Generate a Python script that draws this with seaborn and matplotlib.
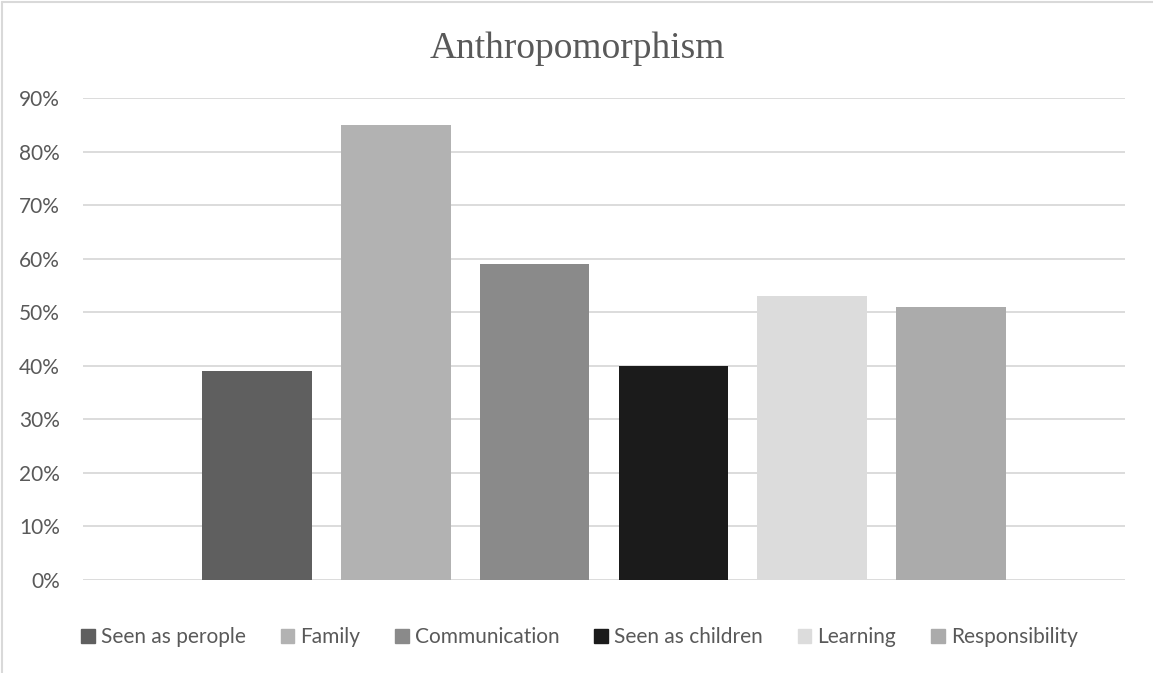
import matplotlib
matplotlib.use("Agg")
import matplotlib.pyplot as plt
import seaborn as sns
import pandas as pd
from matplotlib.patches import Rectangle
from matplotlib.lines import Line2D
from matplotlib.ticker import PercentFormatter

series = ["Seen as perople", "Family", "Communication", "Seen as children", "Learning", "Responsibility"]
values = [0.39, 0.85, 0.59, 0.40, 0.53, 0.51]
colors = ["#5f5f5f", "#b2b2b2", "#8a8a8a", "#1b1b1b", "#dcdcdc", "#ababab"]
title = "Anthropomorphism"
yticks = [0, 0.1, 0.2, 0.3, 0.4, 0.5, 0.6, 0.7, 0.8, 0.9]

df = pd.DataFrame({"cat": [""] * len(series), "series": series, "value": values})

sns.set_theme(style="white")
plt.rcParams["font.family"] = ["Lato", "DejaVu Sans"]

W, H = 1153, 673
fig = plt.figure(figsize=(W / 100, H / 100), dpi=100)
ax = fig.add_axes([83 / W, (H - 580) / H, (1125 - 83) / W, (580 - 98) / H])

sns.barplot(data=df, x="cat", y="value", hue="series", hue_order=series,
            palette=colors, width=0.8, gap=0.209, dodge=True, ax=ax,
            saturation=1, legend=True, edgecolor="none", linewidth=0, zorder=3)

ax.set_xlim(-0.5, 0.5)
ax.set_ylim(0, 0.9)
ax.set_yticks(yticks)
ax.yaxis.set_major_formatter(PercentFormatter(1.0, decimals=0))
ax.grid(axis="y", color="#d9d9d9", linewidth=1.3, zorder=0)
ax.set_axisbelow(True)
for s in ax.spines.values():
    s.set_visible(False)
ax.set_xlabel("")
ax.set_ylabel("")
ax.set_xticks([])
ax.tick_params(axis="y", length=0, pad=16.5, labelsize=15, labelcolor="#595959")

ax.legend_.remove()
handles = [Rectangle((0, 0), 1, 1, color=c) for c in colors]
leg = fig.legend(handles, series, loc="center", bbox_to_anchor=(579.5 / W, (H - 637) / H),
                 ncol=6, frameon=False, fontsize=15, handlelength=0.65, handleheight=0.65,
                 handletextpad=0.3, columnspacing=1.67, borderaxespad=0)
for t in leg.get_texts():
    t.set_color("#595959")

fig.text(577 / W, (H - 49) / H, title, ha="center", va="center",
         fontsize=27, color="#595959", family=["Liberation Serif", "DejaVu Serif"])

# chart-area border (left and top edges visible in the reference)
fig.add_artist(Line2D([2 / W, 2 / W], [0, (H - 1.5) / H], transform=fig.transFigure,
                      color="#d9d9d9", linewidth=1.5))
fig.add_artist(Line2D([2 / W, 1], [(H - 1.5) / H, (H - 1.5) / H], transform=fig.transFigure,
                      color="#d9d9d9", linewidth=1.5))

fig.savefig("out.png", dpi=100)
